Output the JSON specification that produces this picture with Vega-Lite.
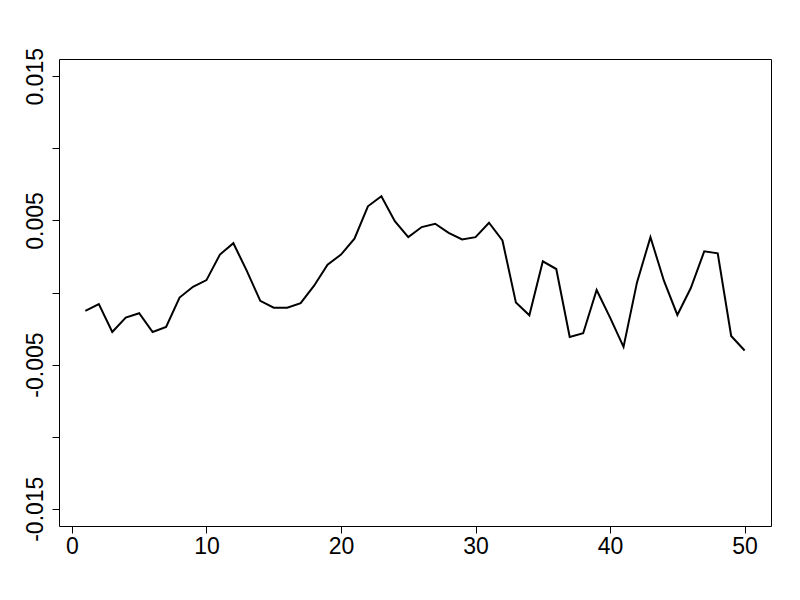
{
  "$schema": "https://vega.github.io/schema/vega-lite/v6.json",
  "width": 712,
  "height": 467,
  "autosize": {"type": "none"},
  "padding": {"left": 59, "top": 59, "right": 29, "bottom": 74},
  "background": "white",
  "config": {
    "view": {"stroke": "black", "strokeWidth": 1},
    "axis": {
      "labelFont": "Liberation Sans",
      "labelFontSize": 23,
      "labelColor": "black",
      "tickColor": "black",
      "tickSize": 7,
      "tickWidth": 1,
      "domain": false,
      "grid": false,
      "title": null
    }
  },
  "data": {
    "values": [
      {"x": 1, "y": -0.00128},
      {"x": 2, "y": -0.00081},
      {"x": 3, "y": -0.00274},
      {"x": 4, "y": -0.00174},
      {"x": 5, "y": -0.00144},
      {"x": 6, "y": -0.00274},
      {"x": 7, "y": -0.00239},
      {"x": 8, "y": -0.00035},
      {"x": 9, "y": 0.0004},
      {"x": 10, "y": 0.00086},
      {"x": 11, "y": 0.00263},
      {"x": 12, "y": 0.00342},
      {"x": 13, "y": 0.0015},
      {"x": 14, "y": -0.00058},
      {"x": 15, "y": -0.00105},
      {"x": 16, "y": -0.00105},
      {"x": 17, "y": -0.00074},
      {"x": 18, "y": 0.00047},
      {"x": 19, "y": 0.00193},
      {"x": 20, "y": 0.00263},
      {"x": 21, "y": 0.00373},
      {"x": 22, "y": 0.00598},
      {"x": 23, "y": 0.00668},
      {"x": 24, "y": 0.00495},
      {"x": 25, "y": 0.00384},
      {"x": 26, "y": 0.00454},
      {"x": 27, "y": 0.00477},
      {"x": 28, "y": 0.00414},
      {"x": 29, "y": 0.00368},
      {"x": 30, "y": 0.00384},
      {"x": 31, "y": 0.00484},
      {"x": 32, "y": 0.00361},
      {"x": 33, "y": -0.0007},
      {"x": 34, "y": -0.00158},
      {"x": 35, "y": 0.00216},
      {"x": 36, "y": 0.00163},
      {"x": 37, "y": -0.00309},
      {"x": 38, "y": -0.00283},
      {"x": 39, "y": 0.00017},
      {"x": 40, "y": -0.00174},
      {"x": 41, "y": -0.00377},
      {"x": 42, "y": 0.0007},
      {"x": 43, "y": 0.00384},
      {"x": 44, "y": 0.00082},
      {"x": 45, "y": -0.00156},
      {"x": 46, "y": 0.00031},
      {"x": 47, "y": 0.00286},
      {"x": 48, "y": 0.00272},
      {"x": 49, "y": -0.00302},
      {"x": 50, "y": -0.00402}
    ]
  },
  "mark": {"type": "line", "color": "black", "strokeWidth": 2},
  "encoding": {
    "x": {
      "field": "x",
      "type": "quantitative",
      "scale": {"domain": [-0.96, 51.96], "nice": false, "zero": false},
      "axis": {
        "values": [0, 10, 20, 30, 40, 50],
        "labelPadding": 2,
        "labelFlush": false,
        "labelOverlap": false
      }
    },
    "y": {
      "field": "y",
      "type": "quantitative",
      "scale": {"domain": [-0.0162, 0.0162], "nice": false, "zero": false},
      "axis": {
        "values": [-0.015, -0.01, -0.005, 0, 0.005, 0.01, 0.015],
        "labelExpr": "abs(datum.value-0.015)<1e-9 ? '0.015' : abs(datum.value-0.005)<1e-9 ? '0.005' : abs(datum.value+0.005)<1e-9 ? '-0.005' : abs(datum.value+0.015)<1e-9 ? '-0.015' : ''",
        "labelAngle": -90,
        "labelAlign": "center",
        "labelBaseline": "bottom",
        "labelPadding": 5,
        "labelFlush": false,
        "labelOverlap": false
      }
    }
  }
}
